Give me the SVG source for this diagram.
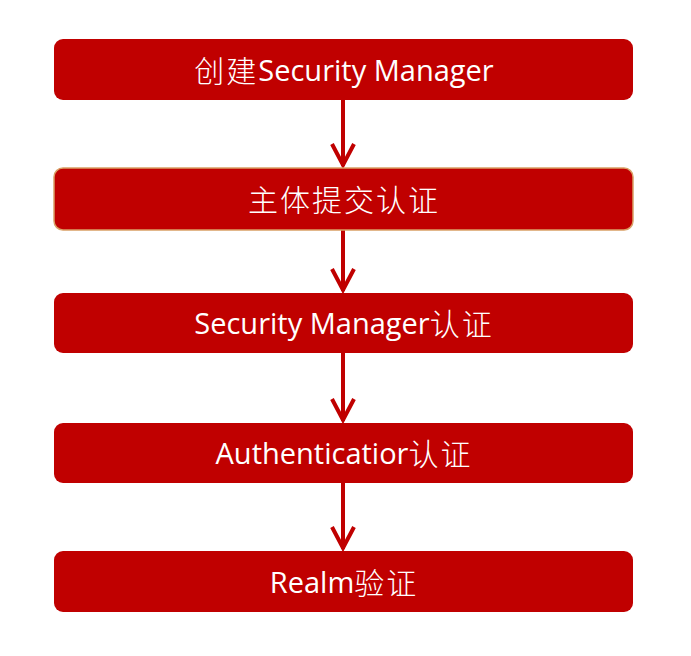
<svg xmlns="http://www.w3.org/2000/svg" width="691" height="656" viewBox="0 0 691 656">
<style>
.box{fill:#C00000;}
.b2{stroke:#D9A066;stroke-width:1.5;}
.t{fill:#fff;font-family:"Open Sans","Noto Sans CJK SC",sans-serif;font-size:29px;text-anchor:middle;dominant-baseline:central;}
.k{font-family:"Noto Sans CJK SC",sans-serif;font-size:30px;font-weight:300;letter-spacing:2px;}
.c{stroke:#C00000;stroke-width:4;fill:none;}
</style>
<defs>
<marker id="v" markerUnits="userSpaceOnUse" markerWidth="30" markerHeight="30" refX="15" refY="26" viewBox="0 0 30 30" orient="0">
<polyline points="4,4 15,25 26,4" fill="none" stroke="#C00000" stroke-width="4"/>
</marker>
</defs>
<rect width="691" height="656" fill="#fff"/>
<g id="connectors">
<line class="c" x1="343" y1="100" x2="343" y2="166" marker-end="url(#v)"/>
<line class="c" x1="343" y1="230" x2="343" y2="291" marker-end="url(#v)"/>
<line class="c" x1="343" y1="353" x2="343" y2="421" marker-end="url(#v)"/>
<line class="c" x1="343" y1="483" x2="343" y2="549" marker-end="url(#v)"/>
</g>
<g id="n1"><rect class="box" x="54" y="39" width="579" height="61" rx="9"/><text class="t" x="344" y="69"><tspan class="k">创建</tspan>Security Manager</text></g>
<g id="n2"><rect class="box b2" x="54" y="168" width="579" height="62" rx="9"/><text class="t" x="344" y="198"><tspan class="k">主体提交认证</tspan></text></g>
<g id="n3"><rect class="box" x="54" y="293" width="579" height="60" rx="9"/><text class="t" x="344" y="322">Security Manager<tspan class="k">认证</tspan></text></g>
<g id="n4"><rect class="box" x="54" y="423" width="579" height="60" rx="9"/><text class="t" x="344" y="452">Authenticatior<tspan class="k">认证</tspan></text></g>
<g id="n5"><rect class="box" x="54" y="551" width="579" height="61" rx="9"/><text class="t" x="344" y="581">Realm<tspan class="k">验证</tspan></text></g>
</svg>
